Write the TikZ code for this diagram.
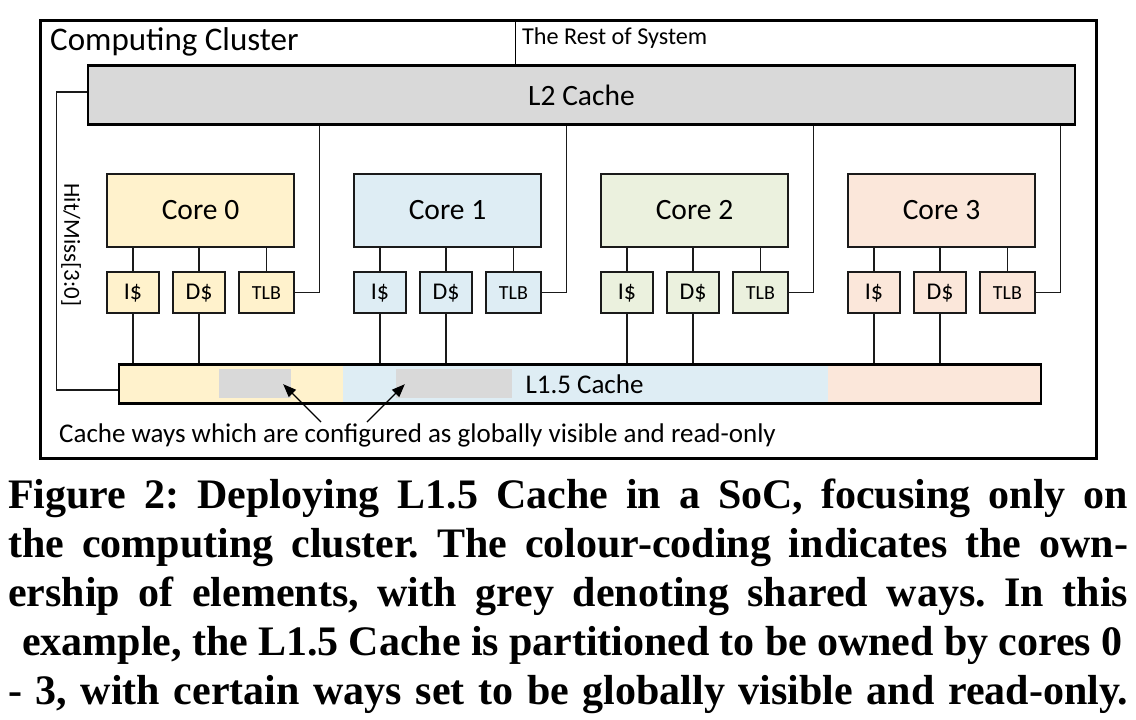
\documentclass[tikz,border=0pt]{standalone}
\usepackage{fontspec}
\setmainfont{Carlito}
\newfontfamily\capfont{Liberation Serif}
\usetikzlibrary{arrows.meta,calc}
\definecolor{cy}{HTML}{FFF2CC}
\definecolor{cb}{HTML}{DEEDF4}
\definecolor{cg}{HTML}{EBF1DE}
\definecolor{cp}{HTML}{FBE7DA}
\definecolor{gr}{HTML}{D9D9D9}
\definecolor{ln}{HTML}{1A1A1A}
\frenchspacing
\tikzset{
  corebox/.style={draw=ln, line width=2pt, minimum width=187pt, minimum height=73pt, inner sep=0pt, font=\fontsize{29.5}{32}\selectfont},
  smallbox/.style={draw=ln, line width=2pt, minimum height=41pt, inner sep=0pt, font=\fontsize{24}{26}\selectfont},
  tlbbox/.style={smallbox, font=\fontsize{20}{22}\selectfont},
  bigbox/.style={draw=black, line width=2.6pt, inner sep=0pt},
  wire/.style={draw=ln, line width=1.3pt},
  patch/.style={fill=gr, draw=none, minimum height=29pt, inner sep=0pt},
  seg/.style={draw=none, minimum height=39pt, inner sep=0pt},
  lbl/.style={inner sep=0pt},
  note/.style={-{Triangle[length=13pt,width=10pt]}, line width=1.3pt, draw=black},
  capline/.style={anchor=base west, inner sep=0pt, font=\capfont\bfseries\fontsize{42}{49}\selectfont}
}
\begin{document}
\begin{tikzpicture}[x=1pt,y=-1pt]
\useasboundingbox (0,0) rectangle (1136,720);
% outer box
\node[draw=black, line width=3pt, minimum width=1056pt, minimum height=438pt, inner sep=0pt] (cc) at (568,239) {};
\node[lbl, anchor=base west, font=\fontsize{33}{36}\selectfont] (cctitle) at (50,50) {Computing Cluster};
\node[lbl, anchor=base west, font=\fontsize{24.2}{26}\selectfont] (rest) at (522,44) {The Rest of System};
% L2
\node[bigbox, fill=gr, minimum width=987pt, minimum height=59pt, font=\fontsize{29.5}{31}\selectfont] (l2) at (581.5,95) {L2 Cache};
\coordinate (dv) at (515.7,20);
\draw[line width=1.3pt] (dv) -- (dv |- l2.north);
% L1.5 segments
\node[seg, fill=cy, minimum width=223.5pt] (s0) at (230.75,384) {};
\node[seg, fill=cb, minimum width=485.5pt] (s1) at (585.25,384) {};
\node[seg, fill=cp, minimum width=213pt] (s3) at (934.5,384) {};
\node[patch, minimum width=72pt] (g0) at (255,383.5) {};
\node[patch, minimum width=116pt] (g1) at (454,383.5) {};
\node[bigbox, minimum width=922pt, minimum height=39pt] (l15) at (580,384) {};
\node[lbl, font=\fontsize{27}{29}\selectfont] (l15t) at (584.5,384) {L1.5 Cache};
% cores
\foreach \k/\col in {0/cy,1/cb,2/cg,3/cp}{
  \pgfmathsetmacro{\dx}{247*\k}
  \node[corebox, fill=\col] (c\k) at (200.5+\dx,210.5) {Core \k};
  \node[smallbox, fill=\col, minimum width=52pt] (i\k) at (133+\dx,292.75) {I\$};
  \node[smallbox, fill=\col, minimum width=52pt] (d\k) at (199+\dx,292.75) {D\$};
  \node[tlbbox, fill=\col, minimum width=55pt] (t\k) at (266.5+\dx,292.75) {TLB};
  \draw[wire] (c\k.south -| i\k.north) -- (i\k.north);
  \draw[wire] (c\k.south -| d\k.north) -- (d\k.north);
  \draw[wire] (c\k.south -| t\k.north) -- (t\k.north);
  \draw[wire] (i\k.south) -- (i\k.south |- l15.north);
  \draw[wire] (d\k.south) -- (d\k.south |- l15.north);
  \coordinate (w\k) at ($(t\k.east)+(24.5,0)$);
  \draw[wire] (t\k.east) -- (w\k) -- (w\k |- l2.south);
}
% hit/miss
\coordinate (hm1) at (56.7,92);
\coordinate (hm2) at (56.7,390);
\draw[wire] (l2.west |- hm1) -- (hm1) -- (hm2) -- (hm2 -| l15.west);
\node[lbl, rotate=-90, font=\fontsize{23}{25}\selectfont] (hmt) at (71,245) {Hit/Miss[3:0]};
% note
\node[lbl, anchor=base west, font=\fontsize{27}{29}\selectfont] (note) at (59,442) {Cache ways which are configured as globally visible and read-only};
\coordinate (a0) at (321,422);
\coordinate (a1) at (367,422);
\draw[note] (a0) -- ($(g0.south east)+(-8,-14)$);
\draw[note] (a1) -- ($(g1.south west)+(9,-14)$);
% caption
\node[capline] (cap1) at (8,508) {\makebox[1120pt][s]{Figure 2: Deploying L1.5 Cache in a SoC, focusing only on}};
\node[capline] (cap2) at (8,557) {\makebox[1120pt][s]{the computing cluster. The colour-coding indicates the own-}};
\node[capline] (cap3) at (8,606) {\makebox[1120pt][s]{ership of elements, with grey denoting shared ways. In this}};
\node[capline] (cap4) at (22,655) {\makebox[1100pt][s]{example, the L1.5 Cache is partitioned to be owned by cores 0}};
\node[capline] (cap5) at (8,704) {\makebox[1120pt][s]{- 3, with certain ways set to be globally visible and read-only.}};
\end{tikzpicture}
\end{document}
